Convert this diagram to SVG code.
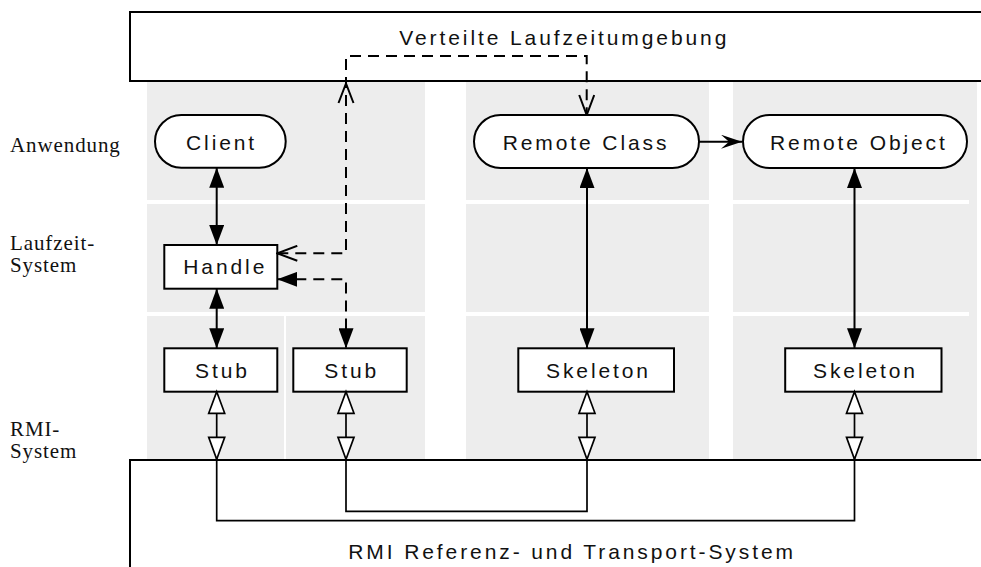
<svg xmlns="http://www.w3.org/2000/svg" width="981" height="567" viewBox="0 0 981 567">
  <style>
    .band { fill: #ededed; }
    .gap { fill: #ffffff; }
    .frame { fill: #ffffff; stroke: #000000; stroke-width: 2; }
    .node { fill: #ffffff; stroke: #000000; stroke-width: 2; }
    .label { font-family: "Liberation Sans", Arial, sans-serif; font-size: 21px; letter-spacing: 2.9px; fill: #111111; }
    .layer { font-family: "Liberation Serif", "Times New Roman", serif; font-size: 21px; letter-spacing: 0.9px; fill: #111111; }
    .link { fill: none; stroke: #000000; stroke-width: 2; }
    .dash { fill: none; stroke: #000000; stroke-width: 2; stroke-dasharray: 11 7; }
    .wire { fill: none; stroke: #000000; stroke-width: 1.7; }
    .hollow { fill: #ffffff; stroke: #000000; stroke-width: 1.7; }
    .openhead { fill: none; stroke: #000000; stroke-width: 2; }
  </style>
  <defs>
    <marker id="solid" viewBox="0 0 20 15" refX="20" refY="7.5" markerWidth="20" markerHeight="15" markerUnits="userSpaceOnUse" orient="auto-start-reverse">
      <path d="M0,0 L20,7.5 L0,15 z" fill="#000000"/>
    </marker>
    <marker id="open" viewBox="-1 -1 22 17" refX="20" refY="7.5" markerWidth="22" markerHeight="17" markerUnits="userSpaceOnUse" orient="auto-start-reverse">
      <path d="M0,0 L20,7.5 L0,15" fill="none" stroke="#000000" stroke-width="2"/>
    </marker>
    <marker id="barb" viewBox="0 0 21 14" refX="21" refY="7" markerWidth="21" markerHeight="14" markerUnits="userSpaceOnUse" orient="auto">
      <path d="M0,0 L21,7 L0,14 L8,7 z" fill="#000000"/>
    </marker>
  </defs>

  <!-- layer bands -->
  <g id="bands">
    <rect class="band" x="147" y="81" width="278" height="379"/>
    <rect class="band" x="466" y="81" width="243" height="379"/>
    <rect class="band" x="733" y="81" width="244" height="379"/>
    <rect class="gap" x="147" y="200" width="822" height="4"/>
    <rect class="gap" x="147" y="312" width="822" height="4"/>
    <rect class="gap" x="425" y="81" width="41" height="379"/>
    <rect class="gap" x="709" y="81" width="24" height="379"/>
    <rect class="gap" x="284" y="316" width="2" height="144"/>
  </g>

  <!-- layer names -->
  <g id="layer-names">
    <text class="layer" x="10" y="151.7">Anwendung</text>
    <text class="layer" x="10" y="250">Laufzeit-</text>
    <text class="layer" x="10" y="272">System</text>
    <text class="layer" x="10" y="436">RMI-</text>
    <text class="layer" x="10" y="458">System</text>
  </g>

  <!-- runtime environment frame -->
  <g id="runtime">
    <rect class="frame" x="130" y="12" width="870" height="69"/>
    <text class="label" x="399.3" y="44.5">Verteilte Laufzeitumgebung</text>
  </g>

  <!-- transport frame -->
  <g id="transport">
    <rect class="frame" x="130" y="460" width="870" height="120"/>
    <text class="label" x="348.3" y="558.5">RMI Referenz- und Transport-System</text>
  </g>

  <g id="client">
    <rect class="node" x="155" y="115" width="130.7" height="52.7" rx="26.3"/>
    <text class="label" x="186" y="149.5">Client</text>
  </g>
  <g id="remote-class">
    <rect class="node" x="474" y="115" width="225" height="53" rx="26.5"/>
    <text class="label" x="502.7" y="149.5">Remote Class</text>
  </g>
  <g id="remote-object">
    <rect class="node" x="743" y="115" width="224" height="53" rx="26.5"/>
    <text class="label" x="770" y="149.5">Remote Object</text>
  </g>
  <g id="handle">
    <rect class="node" x="164.3" y="245" width="113" height="43.7"/>
    <text class="label" x="183.3" y="274.3">Handle</text>
  </g>
  <g id="stub-1">
    <rect class="node" x="164.3" y="348.3" width="113" height="43.4"/>
    <text class="label" x="195" y="377.5">Stub</text>
  </g>
  <g id="stub-2">
    <rect class="node" x="293.3" y="348.3" width="113.4" height="43.4"/>
    <text class="label" x="324.3" y="377.5">Stub</text>
  </g>
  <g id="skeleton-1">
    <rect class="node" x="518.3" y="348.3" width="155.7" height="43.4"/>
    <text class="label" x="546" y="377.5">Skeleton</text>
  </g>
  <g id="skeleton-2">
    <rect class="node" x="785.2" y="348.3" width="156.3" height="43.4"/>
    <text class="label" x="813" y="377.5">Skeleton</text>
  </g>

  <g id="connectors">
    <!-- solid two-way links -->
    <line class="link" x1="216.7" y1="167.7" x2="216.7" y2="245" marker-start="url(#solid)" marker-end="url(#solid)"/>
    <line class="link" x1="216.7" y1="288.7" x2="216.7" y2="348.3" marker-start="url(#solid)" marker-end="url(#solid)"/>
    <line class="link" x1="587" y1="168" x2="587" y2="348.3" marker-start="url(#solid)" marker-end="url(#solid)"/>
    <line class="link" x1="854.5" y1="168" x2="854.5" y2="348.3" marker-start="url(#solid)" marker-end="url(#solid)"/>
    <!-- class creates object -->
    <line class="link" x1="699" y1="141.7" x2="742" y2="141.7" marker-end="url(#barb)"/>

    <!-- dashed lookup through the runtime environment -->
    <path class="dash" d="M277.3,253.3 H346 V56 H586.7 V115" marker-start="url(#open)" marker-end="url(#open)"/>
    <path class="openhead" d="M338.5,103 L346,83.5 L353.5,103"/>
    <path class="dash" d="M277.3,279.3 H346 V348.3" marker-start="url(#solid)" marker-end="url(#solid)"/>

    <!-- transport wiring -->
    <path class="wire" d="M216.7,413 V520.7 H854.5 V413"/>
    <path class="wire" d="M346,413 V511.3 H587 V413"/>
    <g id="transport-heads">
      <polygon class="hollow" points="216.7,391.7 224.7,413.3 208.7,413.3"/>
      <polygon class="hollow" points="216.7,459.3 224.7,437.3 208.7,437.3"/>
      <polygon class="hollow" points="346,391.7 354,413.3 338,413.3"/>
      <polygon class="hollow" points="346,459.3 354,437.3 338,437.3"/>
      <polygon class="hollow" points="587,391.7 595,413.3 579,413.3"/>
      <polygon class="hollow" points="587,459.3 595,437.3 579,437.3"/>
      <polygon class="hollow" points="854.5,391.7 862.5,413.3 846.5,413.3"/>
      <polygon class="hollow" points="854.5,459.3 862.5,437.3 846.5,437.3"/>
    </g>
  </g>
</svg>
